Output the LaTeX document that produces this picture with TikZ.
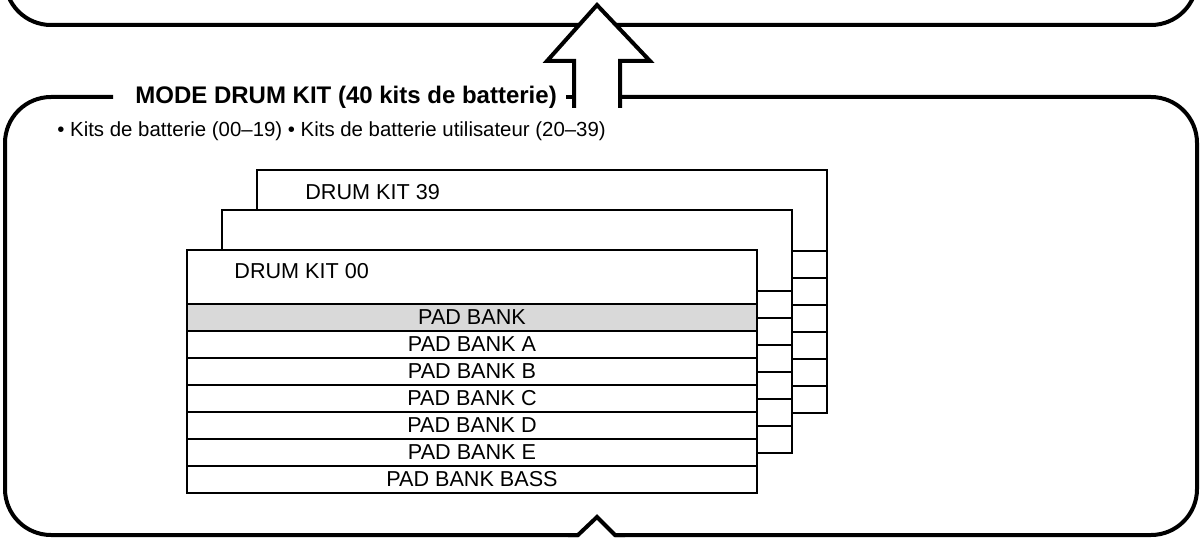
\documentclass[tikz,border=0pt]{standalone}
\usepackage{fontspec}
\setmainfont{Liberation Sans}
\usetikzlibrary{positioning}

\begin{document}
\begin{tikzpicture}[
  x=0.5pt, y=-0.5pt,
  font=\fontsize{10.8}{12.5}\selectfont,
  frame/.style={
    line width=2pt,
    rounded corners=23pt,
  },
  bigarrow/.style={
    line width=2pt,
    fill=white,
    line join=miter,
  },
  kitbox/.style={
    draw,
    fill=white,
    line width=0.65pt,
  },
  rowline/.style={line width=0.65pt},
  modetitle/.style={
    font=\fontsize{12}{14}\selectfont\bfseries,
    anchor=west,
    inner sep=0pt,
  },
  kitname/.style={anchor=west, inner sep=0pt},
  padname/.style={inner sep=0pt},
]
  \clip (0,0) rectangle (1203,540);
  % previous mode frame, only its lower edge shows
  \draw[frame] (5,-80) -- (5,25) -- (1197,25) -- (1197,-80);
  % drum kit mode frame, gap for the title, notch at the bottom
  \draw[frame] (615,535) -- (1197,535) -- (1197,97) -- (620,97);
  \draw[frame] (578,535) -- (5,535) -- (5,97) -- (113,97);
  \draw[frame] (566,97) -- (574,97);
  \draw[bigarrow, fill=none] (625,535) -- (615,535) -- (597,517) -- (578,535) -- (568,535);
  \node[modetitle] (mode) at (135,97) {MODE DRUM KIT (40 kits de batterie)};
  % hollow arrow up
  \draw[bigarrow] (574,108) -- (574,61) -- (547,61) -- (597,5) -- (650,61) -- (620,61) -- (620,108);
  \node[anchor=west, inner sep=0pt, font=\fontsize{10.2}{12}\selectfont] (kits) at (57,131)
    {• Kits de batterie (00–19) • Kits de batterie utilisateur (20–39)};

  % stacked kits behind (39 at the back)
  \foreach \s in {2,1} {
    \begin{scope}[shift={(35*\s,-40*\s)}]
      \draw[kitbox] (187,250) rectangle (757,493);
      \foreach \k in {0,...,5} \draw[rowline] (187,331+27*\k) -- (757,331+27*\k);
    \end{scope}
  }
  \node[kitname] (kit39) at (305,192) {DRUM KIT 39};

  % front kit
  \draw[kitbox] (187,250) rectangle (757,493);
  \fill[gray!30] (187,304) rectangle (757,331);
  \foreach \k in {0,...,6} \draw[rowline] (187,304+27*\k) -- (757,304+27*\k);
  \draw[rowline] (187,250) rectangle (757,493);
  \node[kitname] (kit00) at (234,271) {DRUM KIT 00};
  \foreach \t [count=\i from 0] in {PAD BANK, PAD BANK A, PAD BANK B, PAD BANK C,
      PAD BANK D, PAD BANK E, PAD BANK BASS}
    \node[padname] (pad\i) at (472,317.5+27*\i) {\t};
\end{tikzpicture}
\end{document}
